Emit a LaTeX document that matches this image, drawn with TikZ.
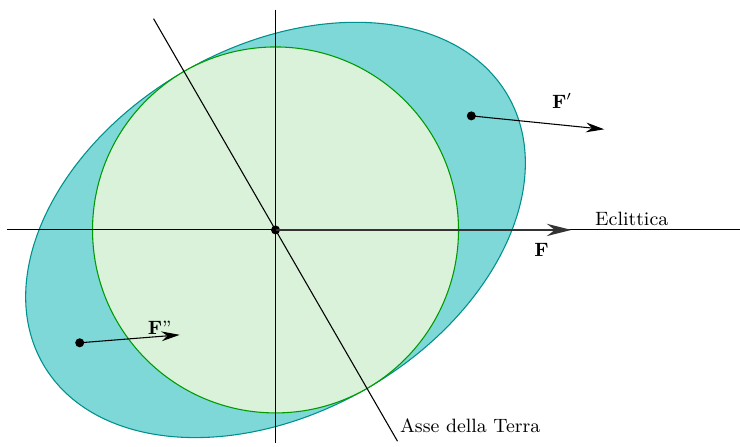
\documentclass[tikz,border=0pt]{standalone}
\usetikzlibrary{arrows.meta,positioning}
\definecolor{OrbitTeal}{HTML}{7ED8D8}
\definecolor{OrbitEdge}{HTML}{00908C}
\definecolor{EarthGreen}{HTML}{DAF2DA}
\definecolor{EarthEdge}{HTML}{009A00}
\tikzset{
  axisline/.style={line width=0.5pt, draw=black},
  force/.style={-{Stealth[length=3mm, width=1.6mm]}, line width=0.5pt},
  mainforce/.style={-{Stealth[length=4mm, width=2mm]}, line width=1.2pt,
                    draw=black!80},
  dot/.style={circle, fill=black, inner sep=0pt, minimum size=4.2pt},
  lbl/.style={font=\small, inner sep=1pt}
}
\begin{document}
\begin{tikzpicture}[x=1cm, y=1cm]
  \useasboundingbox (-4.517,-3.557) rectangle (7.615,3.770);

  \filldraw[fill=OrbitTeal, draw=OrbitEdge, line width=0.5pt, rotate=30]
    (0,0) ellipse (4.40 and 3.0);
  \filldraw[fill=EarthGreen, draw=EarthEdge, line width=0.5pt]
    (0,0) circle (3.0);

  \coordinate (eclL) at (-4.41,0);
  \coordinate (eclR) at (7.615,0);
  \coordinate (vertT) at (0,3.61);
  \coordinate (vertB) at (0,-3.49);
  \coordinate (axisT) at (120:4.0);
  \coordinate (axisB) at (-60:4.0);

  \draw[axisline] (eclL) -- (eclR);
  \draw[axisline] (vertT) -- (vertB);
  \draw[axisline] (axisT) -- (axisB);

  \node[dot] (O) at (0,0) {};
  \coordinate (Fend) at (4.85,0);
  \draw[mainforce] (O.center) -- (Fend);
  \node[lbl] (F) at (4.36,-0.33) {$\mathbf{F}$};
  \node[lbl] (ecl) at (5.84,0.18) {Eclittica};
  \node[lbl, anchor=south west, yshift=0.1cm] (asse) at (axisB) {Asse della Terra};

  \node[dot] (P1) at (3.21,1.87) {};
  \coordinate (P1end) at (5.39,1.65);
  \draw[force] (P1.center) -- (P1end);
  \node[lbl] (F1) at (4.70,2.11) {$\mathbf{F}'$};

  \node[dot] (P2) at (-3.21,-1.85) {};
  \coordinate (P2end) at (-1.57,-1.72);
  \draw[force] (P2.center) -- (P2end);
  \node[lbl] (F2) at (-1.90,-1.61) {$\mathbf{F}$''};
\end{tikzpicture}
\end{document}
